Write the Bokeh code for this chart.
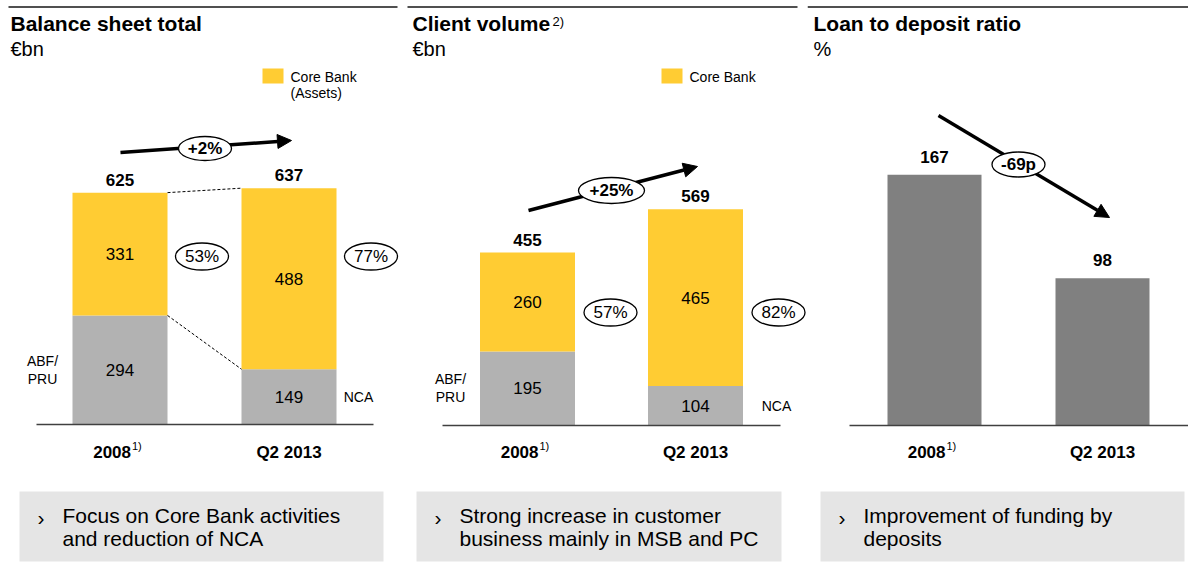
from bokeh.plotting import figure
from bokeh.layouts import row
from bokeh.models import Range1d, Arrow, NormalHead
from bokeh.core.properties import value
from bokeh.embed import file_html
from bokeh.resources import INLINE

# ---------------- data ----------------
categories = ["2008", "Q2 2013"]
category_sup = ["1)", ""]

bs_core = [331, 488]          # Balance sheet total - Core Bank (Assets)
bs_other = [294, 149]         # ABF/PRU, NCA
bs_share = ["53%", "77%"]
bs_change = "+2%"

cv_core = [260, 465]          # Client volume - Core Bank
cv_other = [195, 104]
cv_share = ["57%", "82%"]
cv_change = "+25%"

ltd_ratio = [167, 98]         # Loan to deposit ratio
ltd_change = "-69p"

titles = ["Balance sheet total", "Client volume", "Loan to deposit ratio"]
title_sup = ["", "2)", ""]
units = ["€bn", "€bn", "%"]
legend_texts = [["Core Bank", "(Assets)"], ["Core Bank"]]
other_labels = [["ABF/", "PRU"], ["NCA"]]
notes = [
    ["Focus on Core Bank activities", "and reduction of NCA"],
    ["Strong increase in customer", "business mainly in MSB and PC"],
    ["Improvement of funding by", "deposits"],
]

# ---------------- style ----------------
FONT = "Liberation Sans"
YELLOW = "#FFCC33"
LGRAY = "#B2B2B2"
DGRAY = "#808080"
BOXC = "#E5E5E5"
LINEC = "#404040"
TOP = 0
H = 581


class Panel:
    def __init__(self, ox, W, x0, sx, base, sy):
        self.ox, self.W, self.x0, self.sx, self.base, self.sy = ox, W, x0, sx, base, sy
        p = figure(width=W, height=H,
                   x_range=Range1d((ox - x0) / sx, (ox + W - x0) / sx),
                   y_range=Range1d((base - (TOP + H)) / sy, (base - TOP) / sy),
                   output_backend="svg", toolbar_location=None,
                   x_axis_location=None, y_axis_location=None,
                   min_border=0, outline_line_color=None,
                   background_fill_color="white", border_fill_color="white")
        p.xgrid.grid_line_color = None
        p.ygrid.grid_line_color = None
        self.p = p

    def X(self, px):
        return (px - self.x0) / self.sx

    def Y(self, py):
        return (self.base - py) / self.sy

    def dx(self, d):
        return d / self.sx

    def dy(self, d):
        return d / self.sy

    def text(self, x, y, s, size, bold=False, align="left", color="black"):
        self.p.text(x=[x], y=[y], text=[s], text_font=value(FONT),
                    text_font_size=value(f"{size}px"),
                    text_font_style="bold" if bold else "normal",
                    text_align=align, text_baseline="middle", text_color=color)

    def header(self, i, line_x0, line_x1, tx):
        p = self.p
        p.segment(x0=[self.X(line_x0)], x1=[self.X(line_x1)],
                  y0=[self.Y(6.5)], y1=[self.Y(6.5)], line_color="#505050", line_width=2)
        self.text(self.X(tx), self.Y(23), titles[i], 21, bold=True)
        if title_sup[i]:
            self.text(self.X(tx + 140), self.Y(20.5), title_sup[i], 13)
        self.text(self.X(tx), self.Y(48), units[i], 20)

    def change_arrow(self, x1, y1, x2, y2, ex, ey, ew, eh, label):
        arr = Arrow(end=NormalHead(size=14, fill_color="black", line_color="black"),
                    x_start=self.X(x1), y_start=self.Y(y1), x_end=self.X(x2), y_end=self.Y(y2),
                    line_width=3.5, line_color="black", level="underlay")
        self.p.add_layout(arr)
        self.p.ellipse(x=[self.X(ex)], y=[self.Y(ey)], width=[ew], height=[eh],
                       width_units="screen", height_units="screen",
                       fill_color="white", line_color="black", line_width=1.3)
        self.text(self.X(ex), self.Y(ey), label, 17, bold=True, align="center")

    def axis_and_cats(self, ax0, ax1):
        self.p.segment(x0=[self.X(ax0)], x1=[self.X(ax1)], y0=[0], y1=[0],
                       line_color=LINEC, line_width=1.5)
        for i, c in enumerate(categories):
            if category_sup[i]:
                self.text(i + self.dx(11), self.Y(451.5), c, 17, bold=True, align="right")
                self.text(i + self.dx(12), self.Y(445.5), category_sup[i], 11)
            else:
                self.text(i, self.Y(451.5), c, 17, bold=True, align="center")

    def note_box(self, i, bx0, bx1):
        self.p.quad(left=[self.X(bx0)], right=[self.X(bx1)], top=[self.Y(491)], bottom=[self.Y(561)],
                    fill_color=BOXC, line_color=None)
        self.text(self.X(bx0 + 18), self.Y(517), "›", 21)
        for k, line in enumerate(notes[i]):
            self.text(self.X(bx0 + 43), self.Y(515 + 23 * k), line, 21)


def stacked_panel(P, core, other, share, legend, oth_lbl, lx, share_dx, share_y, abf_x, nca_x):
    p = P.p
    idx = list(range(len(categories)))
    w = P.dx(95)
    tot = [a + b for a, b in zip(core, other)]
    p.vbar(x=idx, bottom=0, top=other, width=w, fill_color=LGRAY, line_color=None)
    p.vbar(x=idx, bottom=other, top=tot, width=w, fill_color=YELLOW, line_color=None)
    for i in idx:
        P.text(i, tot[i] + P.dy(13), str(tot[i]), 17, bold=True, align="center")
        P.text(i, other[i] + core[i] / 2, str(core[i]), 17, align="center")
        P.text(i, other[i] / 2, str(other[i]), 17, align="center")
        ex = i + P.dx(share_dx)
        p.ellipse(x=[ex], y=[P.Y(share_y)], width=[53], height=[27],
                  width_units="screen", height_units="screen",
                  fill_color="white", line_color="black", line_width=1.3)
        P.text(ex, P.Y(share_y), share[i], 17, align="center")
    # legend
    p.quad(left=[P.X(lx)], right=[P.X(lx + 21)], top=[P.Y(68)], bottom=[P.Y(83)],
           fill_color=YELLOW, line_color=None)
    for k, t in enumerate(legend):
        P.text(P.X(lx + 28), P.Y(76 + 16 * k), t, 14)
    # ABF/PRU and NCA labels
    for k, t in enumerate(oth_lbl[0]):
        P.text(P.X(abf_x), other[0] / 2 + P.dy(9 - 18 * k), t, 14, align="center")
    P.text(P.X(nca_x), other[1] / 2, oth_lbl[1][0], 14, align="center")
    return tot, w


# ---------------- panel 1 ----------------
P1 = Panel(ox=0, W=400, x0=119.5, sx=169, base=424, sy=0.371)
P1.header(0, 8, 397, 10)
tot1, w1 = stacked_panel(P1, bs_core, bs_other, bs_share, legend_texts[0], other_labels,
                         262, 82, 256, 42, 358)
P1.p.segment(x0=[w1 / 2, w1 / 2], x1=[1 - w1 / 2, 1 - w1 / 2],
             y0=[tot1[0], bs_other[0]], y1=[tot1[1], bs_other[1]],
             line_color="black", line_width=1, line_dash="3 2")
P1.change_arrow(120, 152, 291, 140, 204.5, 148, 53, 24, bs_change)
P1.axis_and_cats(36, 373)
P1.note_box(0, 19, 383)

# ---------------- panel 2 ----------------
P2 = Panel(ox=400, W=407, x0=527, sx=168, base=425, sy=0.380)
P2.header(1, 407, 797, 412)
stacked_panel(P2, cv_core, cv_other, cv_share, legend_texts[1], other_labels,
              661, 83, 312, 450, 776)
P2.change_arrow(528, 210, 697, 166, 611, 190, 66, 26, cv_change)
P2.axis_and_cats(442, 780)
P2.note_box(1, 416, 781)

# ---------------- panel 3 ----------------
P3 = Panel(ox=807, W=381, x0=934, sx=168, base=425, sy=1.502)
P3.header(2, 807, 1188, 813)
idx3 = list(range(len(categories)))
P3.p.vbar(x=idx3, bottom=0, top=ltd_ratio, width=P3.dx(94), fill_color=DGRAY, line_color=None)
for i in idx3:
    P3.text(i, ltd_ratio[i] + P3.dy(18), str(ltd_ratio[i]), 17, bold=True, align="center")
P3.change_arrow(938, 115, 1109, 217, 1018, 164, 53, 25, ltd_change)
P3.axis_and_cats(849, 1188)
P3.note_box(2, 820, 1184)

layout = row(P1.p, P2.p, P3.p)
open("out.html", "w").write(file_html(layout, INLINE))
